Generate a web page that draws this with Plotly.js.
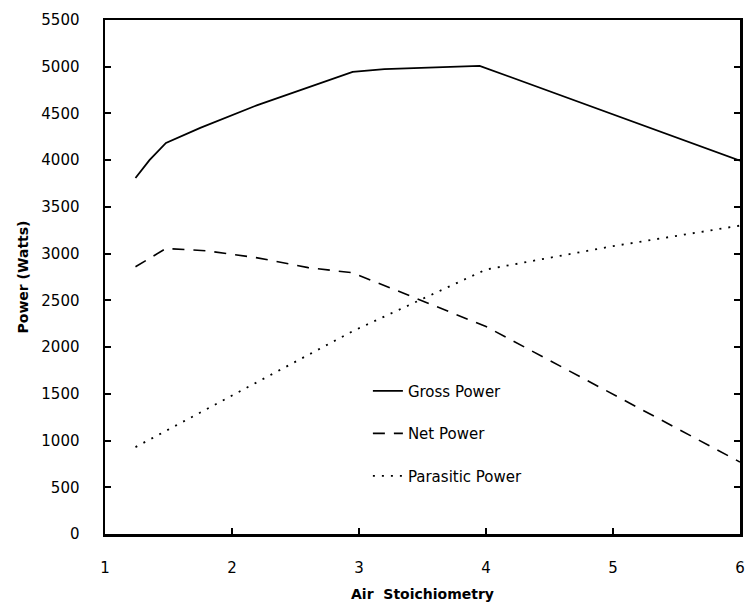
<!DOCTYPE html>
<html>
<head>
<meta charset="utf-8">
<script src="https://cdn.plot.ly/plotly-3.0.1.min.js"></script>
<style>html,body{margin:0;padding:0;background:#fff;}#chart{width:747px;height:604px;}</style>
</head>
<body>
<div id="chart"></div>
<script>
// Data
const grossX = [1.24, 1.35, 1.48, 1.75, 2.2, 2.6, 2.95, 3.2, 3.95, 6.0];
const grossY = [3810, 4000, 4185, 4345, 4590, 4775, 4945, 4975, 5010, 3995];
const netX = [1.24, 1.48, 1.8, 2.2, 2.6, 2.95, 4.0, 6.0];
const netY = [2860, 3055, 3030, 2955, 2850, 2795, 2220, 770];
const parX = [1.24, 2.0, 2.95, 4.0, 5.0, 6.0];
const parY = [930, 1480, 2170, 2830, 3080, 3300];
const seriesNames = ["Gross Power", "Net Power", "Parasitic Power"];
const xTicks = [1, 2, 3, 4, 5, 6];
const yTicks = [0, 500, 1000, 1500, 2000, 2500, 3000, 3500, 4000, 4500, 5000, 5500];

const font = "DejaVu Sans, Liberation Sans, Arial, sans-serif";
const traces = [
  {x: grossX, y: grossY, name: seriesNames[0], legendgroup: "a", mode: "lines",
   line: {color: "#000", width: 1.8, dash: "solid"}},
  {x: netX, y: netY, name: seriesNames[1], legendgroup: "b", mode: "lines",
   line: {color: "#000", width: 1.6, dash: "12px,9px"}},
  {x: parX, y: parY, name: seriesNames[2], legendgroup: "c", mode: "lines",
   line: {color: "#000", width: 1.8, dash: "2px,7px"}}
];
const layout = {
  width: 747, height: 604,
  margin: {l: 105, r: 7, t: 20, b: 70},
  paper_bgcolor: "#fff", plot_bgcolor: "#fff",
  font: {family: font, color: "#000", size: 15},
  showlegend: true,
  legend: {x: 0.414, y: 0.31, xanchor: "left", yanchor: "top", bgcolor: "rgba(0,0,0,0)",
           tracegroupgap: 20, font: {size: 15, family: font}},
  xaxis: {range: [1, 6], tickvals: xTicks, ticktext: xTicks.map(String),
          showgrid: false, zeroline: false, showline: true, linecolor: "#000", linewidth: 2.5,
          mirror: true, ticks: "inside", ticklen: 6, tickwidth: 2, tickcolor: "#000",
          ticklabelstandoff: 18, tickfont: {size: 15},
          title: {text: "Air  Stoichiometry", font: {size: 14, weight: "bold"}, standoff: 14}},
  yaxis: {range: [0, 5500], tickvals: yTicks, ticktext: yTicks.map(String),
          showgrid: false, zeroline: false, showline: true, linecolor: "#000", linewidth: 2.5,
          mirror: "ticks", ticks: "inside", ticklen: 6, tickwidth: 2, tickcolor: "#000",
          ticklabelstandoff: 20, tickfont: {size: 15},
          title: {text: "Power (Watts)", font: {size: 14, weight: "bold"}, standoff: 10}}
};
Plotly.newPlot("chart", traces, layout, {displayModeBar: false, staticPlot: true});
</script>
</body>
</html>
